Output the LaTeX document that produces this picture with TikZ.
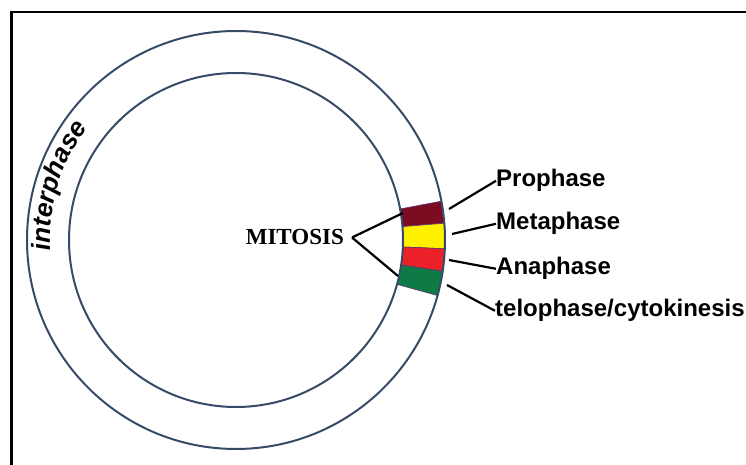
\documentclass[tikz,border=0pt]{standalone}
\usepackage{fontspec}
\setmainfont{Liberation Serif}
\newfontfamily\labelfont{Liberation Sans}
\usetikzlibrary{calc,decorations.text}
\definecolor{ring}{RGB}{55,75,105}
\definecolor{proC}{RGB}{125,12,35}
\definecolor{metaC}{RGB}{255,240,0}
\definecolor{anaC}{RGB}{236,32,40}
\definecolor{teloC}{RGB}{14,122,70}
\definecolor{segedge}{RGB}{90,50,110}
\begin{document}
\begin{tikzpicture}[x=1pt,y=1pt,
  ringline/.style={draw=ring,line width=2pt},
  conn/.style={draw=black,line width=2.2pt},
  phaselabel/.style={anchor=base west,inner sep=0pt,font=\labelfont\bfseries\fontsize{24}{28}\selectfont},
  mitlabel/.style={anchor=base east,inner xsep=8pt,inner ysep=0pt,font=\bfseries\fontsize{23}{27}\selectfont},
  seg/.style={draw=segedge,line width=0.6pt}]
\useasboundingbox (0,0) rectangle (746,465);
\fill[white] (0,0) rectangle (746,465);
\draw[line width=2.5pt] (11.5,0) -- (11.5,453) -- (746,453);
\coordinate (C) at (236,225);
\foreach \a/\b/\c in {10.7/4.6/proC, 4.6/-2.4/metaC, -2.4/-8.6/anaC, -8.6/-15.4/teloC}{
  \filldraw[seg,fill=\c] ($(C)+(\a:167)$) arc[start angle=\a,end angle=\b,radius=167]
    -- ($(C)+(\b:209)$) arc[start angle=\b,end angle=\a,radius=209] -- cycle;
}
\draw[ringline] (C) circle[radius=209];
\draw[ringline] (C) circle[radius=167];
% interphase text along the ring
\path[decorate,decoration={text along path,text align=center,
  text={|\labelfont\bfseries\itshape\fontsize{26}{30}\selectfont|interphase}}]
  ($(C)+(200:186)$) arc[start angle=200,end angle=126,radius=186];
% MITOSIS
\node[mitlabel] (mit) at (352,220) {MITOSIS};
\coordinate (mtop) at (403,252);
\coordinate (mbot) at (398,189);
\draw[conn] (mit.east) -- (mtop);
\draw[conn] (mit.east) -- (mbot);
% phase labels
\node[phaselabel] (lpro) at (496,278) {Prophase};
\node[phaselabel] (lmeta) at (496,235) {Metaphase};
\node[phaselabel] (lana) at (496,190) {Anaphase};
\node[phaselabel] (ltelo) at (495,148) {telophase/cytokinesis};
\coordinate (pro) at (449,256);
\coordinate (meta) at (452,231);
\coordinate (ana) at (449,205);
\coordinate (telo) at (447,180);
\draw[conn] (pro) -- (lpro.west);
\draw[conn] (meta) -- (lmeta.west);
\draw[conn] (ana) -- (lana.west);
\draw[conn] (telo) -- (ltelo.west);
\end{tikzpicture}
\end{document}
